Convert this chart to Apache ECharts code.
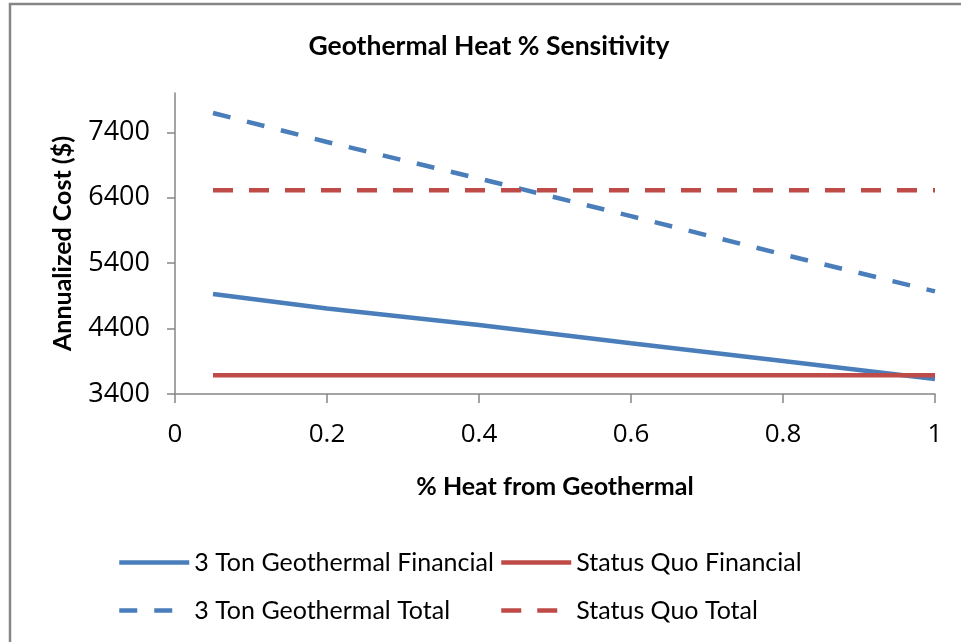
<!DOCTYPE html>
<html>
<head>
<meta charset="utf-8">
<script src="https://cdn.jsdelivr.net/npm/echarts@6/dist/echarts.min.js"></script>
<style>
  html, body { margin: 0; padding: 0; background: #fff; }
  #main { width: 961px; height: 642px; }
</style>
</head>
<body>
<div id="main"></div>
<script>
// values
const heatShare = [0.05, 0.2, 0.4, 0.6, 0.8, 1.0];
const geoFinancial = [4927, 4708, 4453, 4174, 3904, 3629];
const geoTotal = [7695, 7252, 6693, 6118, 5533, 4968];
const quoShare = [0.05, 1.0];
const quoFinancial = [3685, 3685];
const quoTotal = [6515, 6515];
const yTicks = [3400, 4400, 5400, 6400, 7400];

const BLUE = "#4A7EBB";
const RED = "#BE4B48";
const AXIS = "#868686";
const FONT = "Lato";

const pairs = (xs, ys) => xs.map((x, i) => [x, ys[i]]);

const legendBase = {
  orient: "vertical",
  top: 545,
  itemWidth: 70,
  itemHeight: 14,
  itemGap: 23,
  itemStyle: { opacity: 0 },
  lineStyle: { width: 4.5 },
  textStyle: { fontFamily: FONT, fontSize: 25, color: "#000" },
};

const myChart = echarts.init(document.getElementById("main"));
myChart.setOption({
  animation: false,
  graphic: [
    {
      type: "rect",
      shape: { x: 10, y: 4, width: 1000, height: 700 },
      style: { fill: "none", stroke: AXIS, lineWidth: 2.5 },
    },
  ],
  title: {
    text: "Geothermal Heat % Sensitivity",
    left: 484,
    top: 28,
    textAlign: "center",
    textStyle: { fontFamily: FONT, fontWeight: "bold", fontSize: 26.5, color: "#000" },
  },
  grid: { left: 175, right: 26, top: 93, bottom: 248 },
  legend: [
    Object.assign({}, legendBase, {
      left: 112,
      data: ["3 Ton Geothermal Financial", "3 Ton Geothermal Total"],
    }),
    Object.assign({}, legendBase, {
      left: 494,
      data: ["Status Quo Financial", "Status Quo Total"],
    }),
  ],
  xAxis: {
    type: "value",
    min: 0,
    max: 1,
    interval: 0.2,
    name: "% Heat from Geothermal",
    nameLocation: "middle",
    nameGap: 80,
    nameTextStyle: { fontFamily: FONT, fontWeight: "bold", fontSize: 25, color: "#000" },
    axisLine: { lineStyle: { color: AXIS, width: 1.5 } },
    axisTick: { length: 9, lineStyle: { color: AXIS, width: 1.5 } },
    axisLabel: {
      margin: 28,
      fontFamily: "Open Sans",
      fontSize: 26,
      color: "#000",
    },
    splitLine: { show: false },
  },
  yAxis: {
    type: "value",
    min: 3400,
    max: 8000,
    name: "Annualized Cost ($)",
    nameLocation: "middle",
    nameGap: 100,
    nameTextStyle: { fontFamily: FONT, fontWeight: "bold", fontSize: 25, color: "#000" },
    axisLine: { show: true, lineStyle: { color: AXIS, width: 1.5 } },
    axisTick: { show: true, length: 8, customValues: yTicks, lineStyle: { color: AXIS, width: 1.5 } },
    axisLabel: {
      margin: 25,
      customValues: yTicks,
      formatter: (v) => String(v),
      fontFamily: "Open Sans",
      fontSize: 27,
      color: "#000",
    },
    splitLine: { show: false },
  },
  series: [
    {
      name: "3 Ton Geothermal Financial",
      type: "line",
      symbol: "none",
      color: BLUE,
      lineStyle: { color: BLUE, width: 4.5 },
      data: pairs(heatShare, geoFinancial),
    },
    {
      name: "Status Quo Financial",
      type: "line",
      symbol: "none",
      color: RED,
      lineStyle: { color: RED, width: 4.5 },
      data: pairs(quoShare, quoFinancial),
    },
    {
      name: "3 Ton Geothermal Total",
      type: "line",
      symbol: "none",
      color: BLUE,
      lineStyle: { color: BLUE, width: 4.5, type: [18, 17] },
      data: pairs(heatShare, geoTotal),
    },
    {
      name: "Status Quo Total",
      type: "line",
      symbol: "none",
      color: RED,
      lineStyle: { color: RED, width: 4.5, type: [20, 16] },
      data: pairs(quoShare, quoTotal),
    },
  ],
});
</script>
</body>
</html>
